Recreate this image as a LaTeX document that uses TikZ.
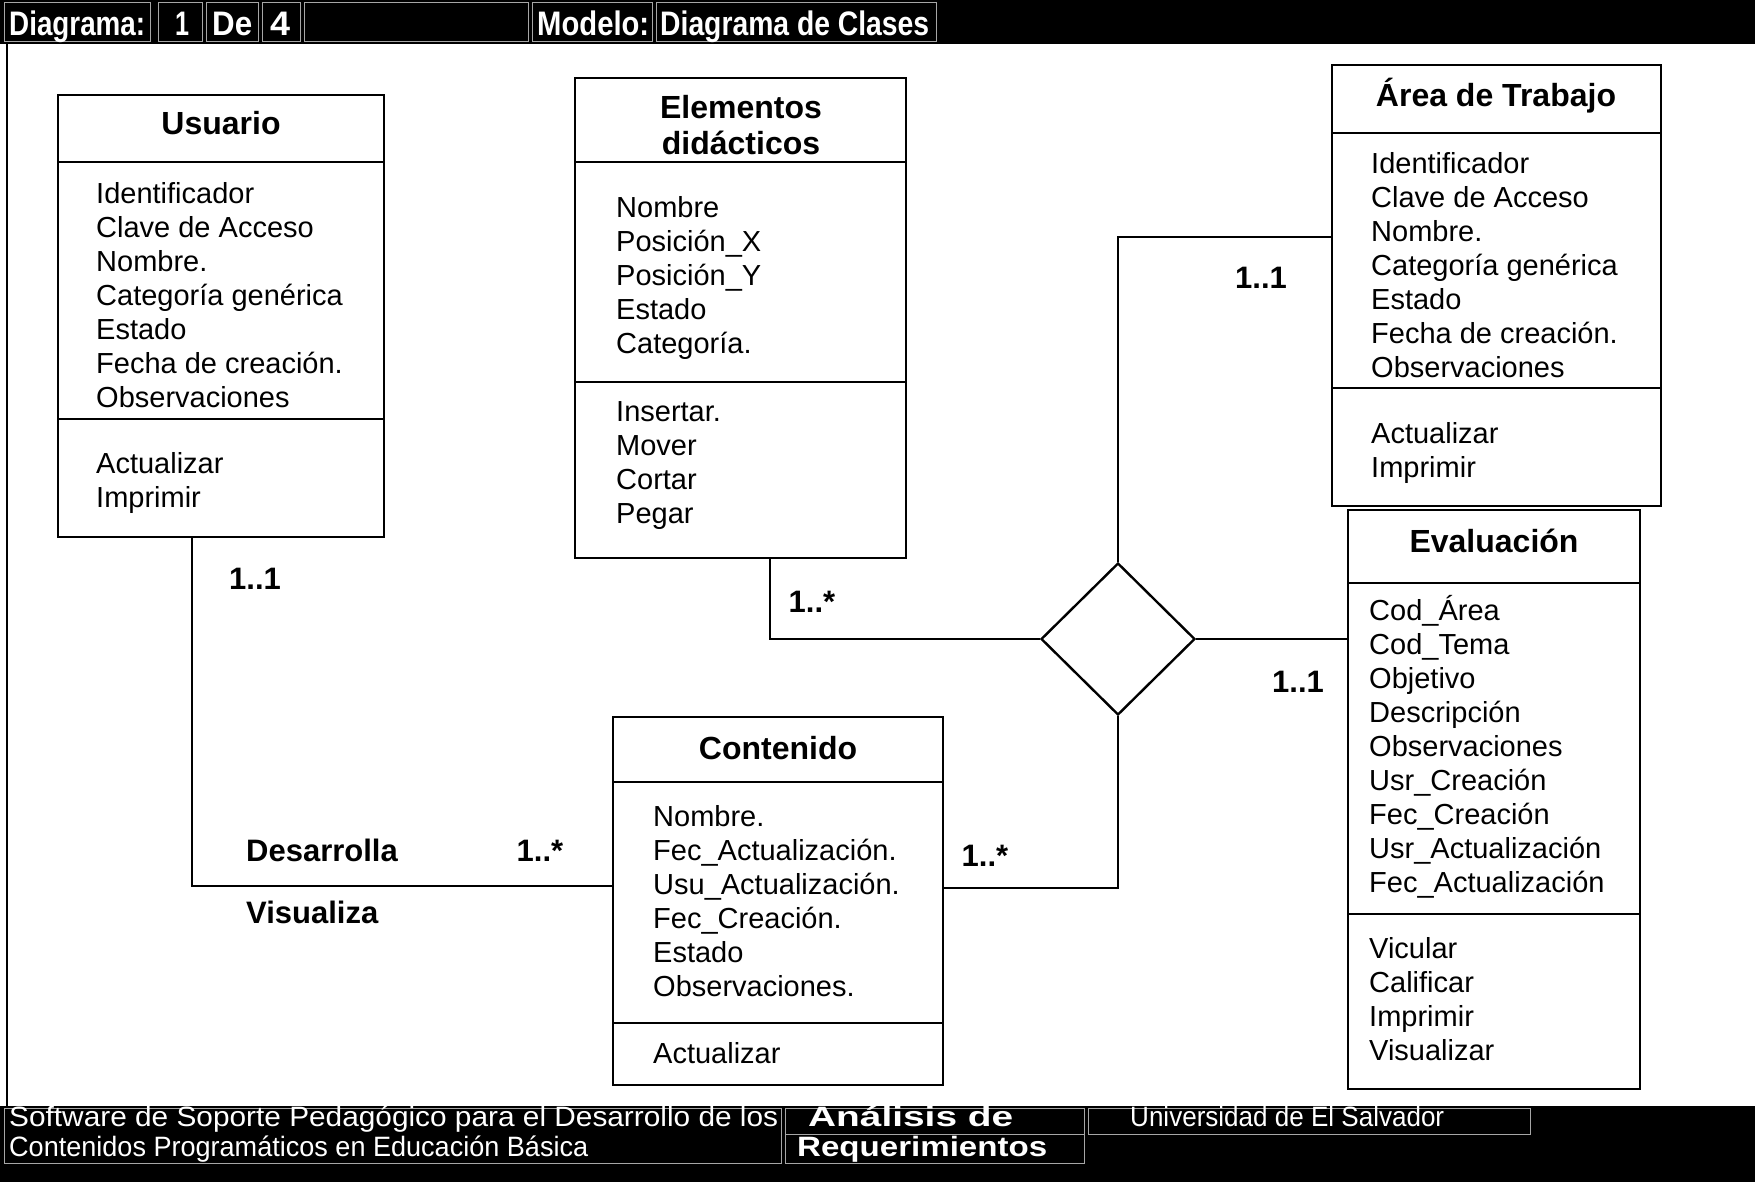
\documentclass[tikz,border=0pt]{standalone}
\usepackage{fontspec}
\setmainfont{Liberation Sans}
\usepackage{graphicx}
\usetikzlibrary{shapes.geometric}
\newcommand{\hfit}[2]{\resizebox{#1}{\height}{#2}}
\begin{document}
\begin{tikzpicture}[x=1pt,y=-1pt,
  classbox/.style={draw, line width=2.6pt, inner sep=0pt, outer sep=0pt, anchor=north west},
  divline/.style={line width=2.6pt},
  attr/.style={anchor=north west, inner sep=0pt, align=left, font=\fontsize{29}{34}\selectfont},
  ttl/.style={anchor=base, inner sep=0pt, font=\fontsize{32}{38}\selectfont\bfseries},
  lbl/.style={inner sep=0pt, font=\fontsize{31}{36}\selectfont\bfseries},
  conn/.style={line width=2.2pt},
  hdr/.style={anchor=base west, inner sep=0pt, text=white, font=\fontsize{34}{40}\selectfont\bfseries},
  ftr/.style={anchor=base west, inner sep=0pt, text=white, font=\fontsize{28}{32}\selectfont},
  ftrb/.style={ftr, font=\fontsize{28}{32}\selectfont\bfseries},
  cell/.style={draw=white!65!black, line width=1pt},
  relshape/.style={diamond, draw, line width=2.4pt, inner sep=0pt, minimum width=154pt, minimum height=152pt}
]
\useasboundingbox (0,0) rectangle (1755,1182);
\fill[white] (0,0) rectangle (1755,1182);

% header bar
\fill[black] (0,0) rectangle (1755,44);
\draw[cell] (4,3) rectangle (150,42);
\draw[cell] (158,3) rectangle (202,42);
\draw[cell] (206,3) rectangle (258,42);
\draw[cell] (262,3) rectangle (300,42);
\draw[cell] (304,3) rectangle (528,42);
\draw[cell] (532,3) rectangle (652,42);
\draw[cell] (656,3) rectangle (936,42);
\node[hdr] (h1) at (9,36) {\hfit{136pt}{Diagrama:}};
\node[hdr] (h2) at (175,36) {\hfit{14pt}{1}};
\node[hdr] (h3) at (212,36) {\hfit{40pt}{De}};
\node[hdr] (h4) at (270,36) {\hfit{20pt}{4}};
\node[hdr] (h5) at (537,36) {\hfit{112pt}{Modelo:}};
\node[hdr] (h6) at (660,36) {\hfit{269pt}{Diagrama de Clases}};

% left frame line
\draw[line width=2pt] (7,44) -- (7,1106);

% footer bar
\fill[black] (0,1106) rectangle (1755,1182);
\draw[cell] (4,1108) rectangle (781,1163);
\draw[cell] (785,1108) rectangle (1084,1134);
\draw[cell] (785,1134) rectangle (1084,1163);
\draw[cell] (1088,1108) rectangle (1530,1134);
\node[ftr] (f1) at (9,1126) {\hfit{769pt}{Software de Soporte Pedagógico para el Desarrollo de los}};
\node[ftr] (f2) at (9,1156) {\hfit{579pt}{Contenidos Programáticos en Educación Básica}};
\node[ftrb] (f3) at (808,1126) {\hfit{205pt}{Análisis de}};
\node[ftrb] (f4) at (797,1156) {\hfit{250pt}{Requerimientos}};
\node[ftr] (f5) at (1130,1126) {\hfit{314pt}{Universidad de El Salvador}};

% ---- Usuario
\node[classbox, minimum width=326pt, minimum height=442pt] (usu) at (58,95) {};
\draw[divline] ([yshift=-67pt]usu.north west) -- ([yshift=-67pt]usu.north east);
\draw[divline] ([yshift=-324pt]usu.north west) -- ([yshift=-324pt]usu.north east);
\node[ttl] (usuT) at (221,134.5) {Usuario};
\node[attr] (usuA) at (96,179) {\strut Identificador\\Clave de Acceso\\Nombre.\\Categoría genérica\\Estado\\Fecha de creación.\\Observaciones};
\node[attr] (usuM) at (96,449) {\strut Actualizar\\Imprimir};

% ---- Elementos didacticos
\node[classbox, minimum width=331pt, minimum height=480pt] (ele) at (575,78) {};
\draw[divline] ([yshift=-84pt]ele.north west) -- ([yshift=-84pt]ele.north east);
\draw[divline] ([yshift=-304pt]ele.north west) -- ([yshift=-304pt]ele.north east);
\node[ttl] (eleT1) at (741,118.5) {Elementos};
\node[ttl] (eleT2) at (741,154.5) {didácticos};
\node[attr] (eleA) at (616,193) {\strut Nombre\\Posición\_X\\Posición\_Y\\Estado\\Categoría.};
\node[attr] (eleM) at (616,397) {\strut Insertar.\\Mover\\Cortar\\Pegar};

% ---- Area de Trabajo
\node[classbox, minimum width=329pt, minimum height=441pt] (area) at (1332,65) {};
\draw[divline] ([yshift=-68pt]area.north west) -- ([yshift=-68pt]area.north east);
\draw[divline] ([yshift=-323pt]area.north west) -- ([yshift=-323pt]area.north east);
\node[ttl] (areaT) at (1496,106.5) {Área de Trabajo};
\node[attr] (areaA) at (1371,149) {\strut Identificador\\Clave de Acceso\\Nombre.\\Categoría genérica\\Estado\\Fecha de creación.\\Observaciones};
\node[attr] (areaM) at (1371,419) {\strut Actualizar\\Imprimir};

% ---- Contenido
\node[classbox, minimum width=330pt, minimum height=368pt] (cont) at (613,717) {};
\draw[divline] ([yshift=-65pt]cont.north west) -- ([yshift=-65pt]cont.north east);
\draw[divline] ([yshift=-306pt]cont.north west) -- ([yshift=-306pt]cont.north east);
\node[ttl] (contT) at (778,759.5) {Contenido};
\node[attr] (contA) at (653,802) {\strut Nombre.\\Fec\_Actualización.\\Usu\_Actualización.\\Fec\_Creación.\\Estado\\Observaciones.};
\node[attr] (contM) at (653,1039) {\strut Actualizar};

% ---- Evaluacion
\node[classbox, minimum width=292pt, minimum height=579pt] (eval) at (1348,510) {};
\draw[divline] ([yshift=-73pt]eval.north west) -- ([yshift=-73pt]eval.north east);
\draw[divline] ([yshift=-404pt]eval.north west) -- ([yshift=-404pt]eval.north east);
\node[ttl] (evalT) at (1494,552.5) {Evaluación};
\node[attr] (evalA) at (1369,595) {\strut Cod\_Área\\Cod\_Tema\\Objetivo\\Descripción\\Observaciones\\Usr\_Creación\\Fec\_Creación\\Usr\_Actualización\\Fec\_Actualización};
\node[attr] (evalM) at (1369,934) {\strut Vicular\\Calificar\\Imprimir\\Visualizar};

% ---- relationship diamond
\node[relshape] (rel) at (1118,639) {};

% ---- connectors
\coordinate (u1) at (192,886);
\draw[conn] (usu.south -| u1) -- (u1) -- (cont.west |- u1);
\coordinate (e1) at (770,639);
\draw[conn] (ele.south -| e1) -- (e1) -- (rel.west);
\coordinate (a1) at (1118,237);
\draw[conn] (area.west |- a1) -- (a1) -- (rel.north);
\draw[conn] (rel.east) -- (eval.west |- rel.east);
\coordinate (c1) at (1118,888);
\draw[conn] (rel.south) -- (c1) -- (cont.east |- c1);

% ---- labels
\node[lbl] (l1) at (255,579) {1..1};
\node[lbl] (l2) at (812,602) {1..*};
\node[lbl] (l3) at (1261,278) {1..1};
\node[lbl] (l4) at (1298,682) {1..1};
\node[lbl, anchor=west] (l5) at (246,850) {Desarrolla};
\node[lbl, anchor=west] (l6) at (246,912) {Visualiza};
\node[lbl] (l7) at (540,851) {1..*};
\node[lbl] (l8) at (985,856) {1..*};
\end{tikzpicture}
\end{document}
